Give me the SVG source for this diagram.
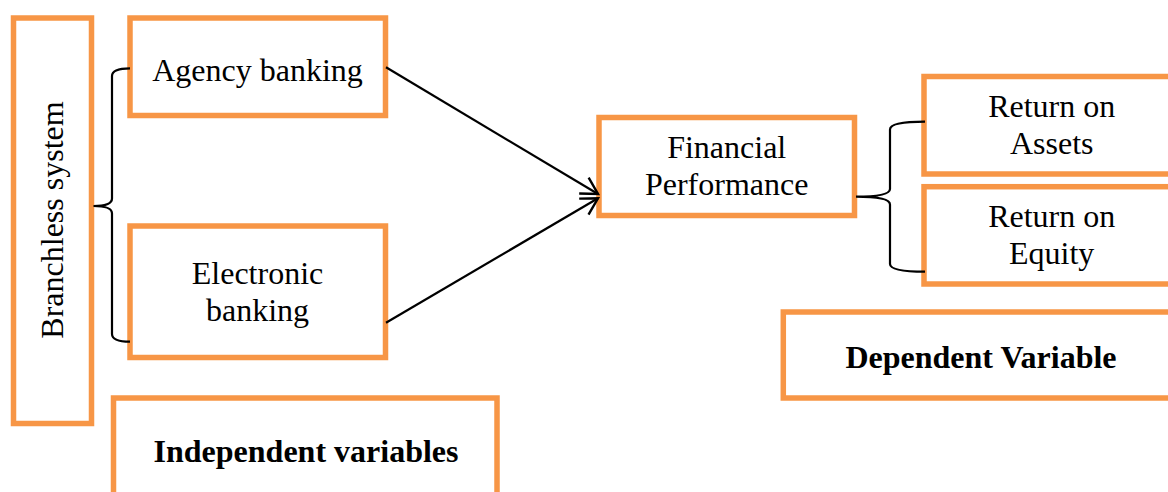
<svg xmlns="http://www.w3.org/2000/svg" width="1168" height="492" viewBox="0 0 1168 492">
<style>
.box{fill:#fff;stroke:#F79646;stroke-width:5.5}
.t{font-family:"Liberation Serif","Times New Roman",serif;font-size:32px;fill:#000;text-anchor:middle}
.b{font-weight:bold}
.ln{fill:none;stroke:#000;stroke-width:2.2}
</style>
<defs>
<marker id="arr" markerUnits="userSpaceOnUse" orient="auto" markerWidth="40" markerHeight="40" refX="0" refY="0" viewBox="-20 -20 40 40" overflow="visible">
<path d="M-16.4,-9.2 L0,0 L-16.4,9.2" fill="none" stroke="#000" stroke-width="2.4"/>
</marker>
</defs>
<rect width="1168" height="492" fill="#fff"/>
<g id="branchless">
<rect class="box" x="13.5" y="18" width="78" height="405.5"/>
<text class="t" transform="translate(63,220) rotate(-90)">Branchless system</text>
</g>
<g id="agency">
<rect class="box" x="130" y="18" width="255.5" height="97.5"/>
<text class="t" x="257.5" y="81">Agency banking</text>
</g>
<g id="electronic">
<rect class="box" x="130" y="226" width="255.5" height="131.5"/>
<text class="t" x="257.5" y="283.5">Electronic</text>
<text class="t" x="257.5" y="320.5">banking</text>
</g>
<g id="independent">
<rect class="box" x="113.5" y="398" width="383.5" height="110"/>
<text class="t b" x="306" y="461.5">Independent variables</text>
</g>
<g id="financial">
<rect class="box" x="599" y="117.5" width="255.5" height="98"/>
<text class="t" x="726.7" y="158.3">Financial</text>
<text class="t" x="726.7" y="195">Performance</text>
</g>
<g id="roa">
<rect class="box" x="924" y="76.5" width="260" height="97.5"/>
<text class="t" x="1051.7" y="116.7">Return on</text>
<text class="t" x="1051.7" y="154">Assets</text>
</g>
<g id="roe">
<rect class="box" x="924" y="186.7" width="260" height="97.3"/>
<text class="t" x="1051.7" y="226.7">Return on</text>
<text class="t" x="1051.7" y="264">Equity</text>
</g>
<g id="dependent">
<rect class="box" x="783.3" y="312" width="400" height="86"/>
<text class="t b" x="981" y="368.3">Dependent Variable</text>
</g>
<g id="connectors">
<path class="ln" d="M130,68.3 Q112,68.3 112,76 L112,198.5 Q112,206 93.5,206 Q112,206 112,213.5 L112,334 Q112,341.7 130,341.7"/>
<path class="ln" d="M925,121.7 Q890,121.7 890,129.5 L890,189 Q890,196.7 856,196.7 Q890,196.7 890,204.5 L890,264 Q890,271.7 925,271.7"/>
<line class="ln" x1="386" y1="67.3" x2="598" y2="194" marker-end="url(#arr)"/>
<line class="ln" x1="386" y1="322.7" x2="598" y2="198.3" marker-end="url(#arr)"/>
</g>
</svg>
